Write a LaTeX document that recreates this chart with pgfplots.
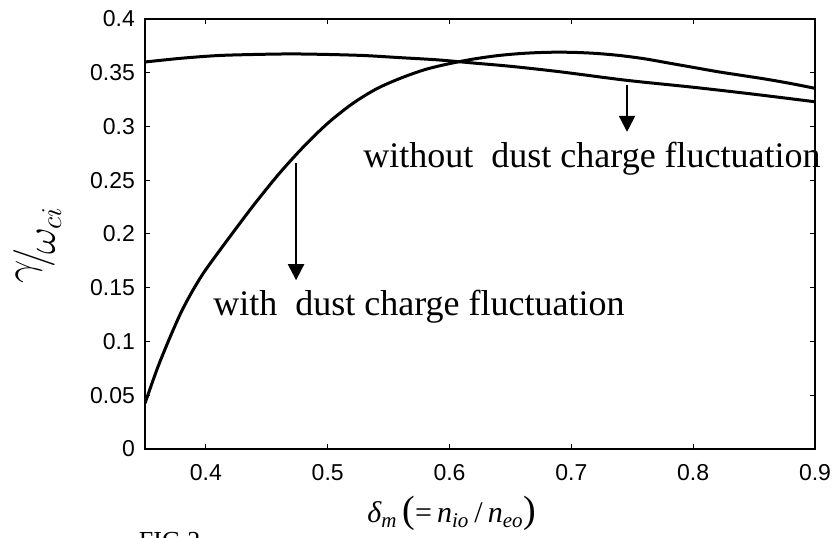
\documentclass[border=0pt]{standalone}
\usepackage{fontspec}
\setmainfont{Liberation Sans}
\newfontfamily\timesfont{Liberation Serif}
\usepackage{pgfplots}
\pgfplotsset{compat=1.18}
\usetikzlibrary{arrows.meta}

\begin{document}
\begin{tikzpicture}
\begin{axis}[
  scale only axis, width=335pt, height=215pt,
  xmin=0.35, xmax=0.9, ymin=0, ymax=0.4,
  clip mode=individual,
  xtick={0.4,0.5,0.6,0.7,0.8,0.9},
  xticklabels={0.4,0.5,0.6,0.7,0.8,0.9},
  ytick={0,0.05,0.1,0.15,0.2,0.25,0.3,0.35,0.4},
  yticklabels={0,0.05,0.1,0.15,0.2,0.25,0.3,0.35,0.4},
  tick align=inside, major tick length=2.5pt,
  tick style={black, line width=0.5pt},
  axis line style={line width=0.6pt},
  ticklabel style={font=\fontsize{11.5}{12}\selectfont},
  xticklabel style={yshift=-4pt},
  yticklabel style={xshift=-1.5pt},
  /pgf/number format/assume math mode=true,
]
% with dust charge fluctuation
\addplot[black, line width=1.5pt, smooth] coordinates {
 (0.35,0.0425) (0.36,0.0745) (0.37,0.1025) (0.38,0.128) (0.39,0.149)
 (0.40,0.167) (0.42,0.198) (0.44,0.228) (0.46,0.256) (0.48,0.281)
 (0.50,0.303) (0.52,0.321) (0.54,0.335) (0.56,0.345) (0.58,0.353)
 (0.60,0.3585) (0.62,0.3628) (0.64,0.366) (0.66,0.368) (0.68,0.369)
 (0.70,0.369) (0.72,0.368) (0.74,0.366) (0.76,0.363) (0.78,0.359)
 (0.80,0.355) (0.82,0.351) (0.84,0.3475) (0.86,0.344) (0.88,0.340)
 (0.90,0.3355)};
% without dust charge fluctuation
\addplot[black, line width=1.5pt, smooth] coordinates {
 (0.35,0.360) (0.38,0.3635) (0.41,0.366) (0.44,0.367) (0.47,0.3675)
 (0.50,0.367) (0.53,0.366) (0.56,0.364) (0.59,0.362) (0.62,0.359)
 (0.65,0.356) (0.69,0.351) (0.745,0.343) (0.80,0.3365) (0.85,0.330)
 (0.90,0.323)};

\draw[line width=1pt, -{Triangle[length=8pt,width=8pt]}] (axis cs:0.474,0.266) -- (axis cs:0.474,0.157);
\draw[line width=1pt, -{Triangle[length=8pt,width=8pt]}] (axis cs:0.7457,0.3386) -- (axis cs:0.7457,0.295);
\node[anchor=base west, inner sep=0pt, font=\timesfont\fontsize{18}{20}\selectfont]
  at (axis cs:0.529,0.262) {without\ \ dust charge fluctuation};
\node[anchor=base west, inner sep=0pt, font=\timesfont\fontsize{18}{20}\selectfont]
  at (axis cs:0.4058,0.124) {with\ \ dust charge fluctuation};

\node[rotate=90, inner sep=0pt, font=\fontsize{20}{24}\selectfont]
  at (axis description cs:-0.161,0.474)
  {$\raisebox{0.5ex}{$\gamma$}\!\Big/\!\raisebox{-0.5ex}{$\omega_{ci}$}$};
\node[anchor=base, inner sep=0pt, font=\timesfont\fontsize{15}{18}\selectfont]
  at (axis description cs:0.458,-0.172)
  {\itshape δ\textsubscript{m}\,\upshape{\fontsize{19}{20}\selectfont(}=\,\itshape n\textsubscript{io}\,\upshape/\,\itshape n\textsubscript{eo}\upshape{\fontsize{19}{20}\selectfont)}};
\node[anchor=base west, inner sep=0pt, font=\timesfont\fontsize{13}{15}\selectfont]
  at (axis description cs:-0.0097,-0.2326) {FIG.2};
\end{axis}
\pgfresetboundingbox
\path[use as bounding box] ([shift={(-72.5pt,-44.5pt)}]current axis.south west)
  rectangle ([shift={(11.5pt,9.5pt)}]current axis.north east);
\end{tikzpicture}
\end{document}
